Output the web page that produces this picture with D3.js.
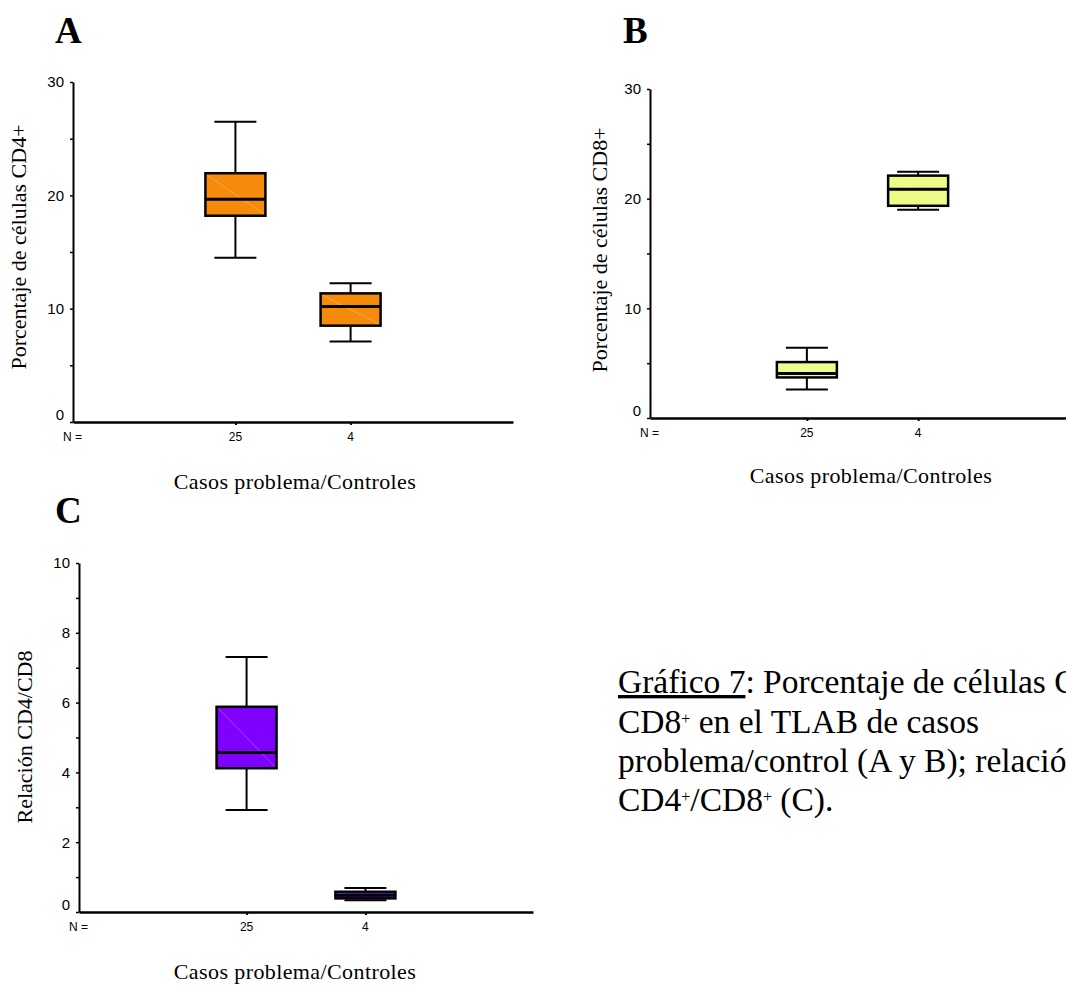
<!DOCTYPE html>
<html>
<head>
<meta charset="utf-8">
<script src="https://cdn.jsdelivr.net/npm/d3@7"></script>
<style>
  body { margin: 0; background: #fff; }
  svg { display: block; }
  .serif { font-family: "Liberation Serif", "Times New Roman", serif; fill: #000; }
  .sans { font-family: "Liberation Sans", Arial, sans-serif; fill: #000; }
</style>
</head>
<body>
<svg id="fig" width="1066" height="985"></svg>
<script>
// Group sizes shown under each box (casos problema, controles)
const groups = ["25", "4"];

// Five-number summaries per group: [min, q1, median, q3, max]
const cd4Pct = [
  [14.5, 18.2, 19.65, 21.95, 26.5],
  [7.1, 8.5, 10.2, 11.35, 12.25]
];
const cd8Pct = [
  [2.6, 3.7, 4.05, 5.1, 6.4],
  [19.0, 19.35, 20.85, 22.1, 22.45]
];
const cd4cd8Ratio = [
  [2.92, 4.12, 4.57, 5.88, 7.31],
  [0.34, 0.39, 0.48, 0.58, 0.69]
];

// Axis ticks
const pctMajorTicks = [0, 10, 20, 30];
const pctMinorTicks = [5, 15, 25];
const ratioMajorTicks = [0, 2, 4, 6, 8, 10];
const ratioMinorTicks = [1, 3, 5, 7, 9];

const xTitle = "Casos problema/Controles";

const svg = d3.select("#fig");

const panels = [
  { letter: "A", letterX: 55, letterY: 43, data: cd4Pct, fill: "#F58A0B",
    yMax: 30, major: pctMajorTicks, minor: pctMinorTicks,
    left: 73, right: 513, top: 82, bottom: 422,
    yLabel: "Porcentaje de células CD4+", yLabelX: 26, yLabelY: 247,
    xTitleX: 295, xTitleY: 489 },
  { letter: "B", letterX: 623, letterY: 43, data: cd8Pct, fill: "#ECFC86",
    yMax: 30, major: pctMajorTicks, minor: pctMinorTicks,
    left: 650, right: 1075, top: 89, bottom: 418,
    yLabel: "Porcentaje de células CD8+", yLabelX: 607, yLabelY: 250,
    xTitleX: 871, xTitleY: 483 },
  { letter: "C", letterX: 55, letterY: 523, data: cd4cd8Ratio, fill: "#8000FF",
    yMax: 10, major: ratioMajorTicks, minor: ratioMinorTicks,
    left: 79, right: 533, top: 563, bottom: 912,
    yLabel: "Relación CD4/CD8", yLabelX: 32, yLabelY: 737,
    xTitleX: 295, xTitleY: 979 }
];

const boxW = 60, capW = 42;

panels.forEach(p => {
  const g = svg.append("g");

  const x = d3.scalePoint().domain(groups).range([p.left, p.right]).padding(1.41);
  const y = d3.scaleLinear().domain([0, p.yMax]).range([p.bottom, p.top]);

  // panel letter
  g.append("text").attr("class", "serif")
    .attr("x", p.letterX).attr("y", p.letterY)
    .attr("font-size", 37).attr("font-weight", "bold")
    .text(p.letter);

  // y axis
  const yAxis = d3.axisLeft(y)
    .tickValues(p.major.concat(p.minor).sort((a, b) => a - b))
    .tickSize(3).tickSizeOuter(0).tickPadding(6)
    .tickFormat(d => p.major.includes(d) ? d3.format("d")(d) : "");
  const ya = g.append("g").attr("transform", `translate(${p.left},0)`).call(yAxis);
  ya.select(".domain").attr("stroke", "#000").attr("stroke-width", 2);
  ya.selectAll(".tick line").attr("stroke", "#000").attr("stroke-width", 1.5);
  ya.selectAll(".tick text")
    .attr("class", "sans").attr("font-size", 15)
    .attr("dy", d => d === 0 ? "-0.2em" : "0.32em");

  // x axis
  const xAxis = d3.axisBottom(x).tickSize(3).tickSizeOuter(0).tickFormat("");
  const xa = g.append("g").attr("transform", `translate(0,${p.bottom})`).call(xAxis);
  xa.select(".domain").attr("stroke", "#000").attr("stroke-width", 2.5);
  xa.selectAll(".tick line").attr("stroke", "#000").attr("stroke-width", 2);

  // N row
  g.append("text").attr("class", "sans")
    .attr("x", p.left - 10).attr("y", p.bottom + 19)
    .attr("font-size", 12).text("N =");
  g.selectAll(".nlab").data(groups).enter().append("text")
    .attr("class", "sans nlab")
    .attr("x", d => x(d)).attr("y", p.bottom + 19)
    .attr("text-anchor", "middle").attr("font-size", 12)
    .text(d => d);

  // axis titles
  g.append("text").attr("class", "serif")
    .attr("transform", `translate(${p.yLabelX},${p.yLabelY}) rotate(-90)`)
    .attr("text-anchor", "middle").attr("font-size", 22)
    .text(p.yLabel);
  g.append("text").attr("class", "serif")
    .attr("x", p.xTitleX).attr("y", p.xTitleY)
    .attr("text-anchor", "middle").attr("font-size", 22)
    .attr("letter-spacing", 0.4)
    .text(xTitle);

  // boxes
  const boxes = g.selectAll(".box").data(p.data.map((s, i) => ({ s, k: groups[i] })))
    .enter().append("g").attr("class", "box");

  boxes.append("line")
    .attr("x1", d => x(d.k)).attr("x2", d => x(d.k))
    .attr("y1", d => y(d.s[0])).attr("y2", d => y(d.s[4]))
    .attr("stroke", "#000").attr("stroke-width", 2);
  [0, 4].forEach(j => {
    boxes.append("line")
      .attr("x1", d => x(d.k) - capW / 2).attr("x2", d => x(d.k) + capW / 2)
      .attr("y1", d => y(d.s[j])).attr("y2", d => y(d.s[j]))
      .attr("stroke", "#000").attr("stroke-width", 2);
  });
  boxes.append("rect")
    .attr("x", d => x(d.k) - boxW / 2).attr("width", boxW)
    .attr("y", d => y(d.s[3])).attr("height", d => y(d.s[1]) - y(d.s[3]))
    .attr("fill", p.fill).attr("stroke", "#000").attr("stroke-width", 2.5);
  // faint diagonal sheen across the fill
  boxes.append("line")
    .attr("x1", d => x(d.k) - boxW / 2 + 2).attr("y1", d => y(d.s[3]) + 2)
    .attr("x2", d => x(d.k) + boxW / 2 - 2).attr("y2", d => y(d.s[1]) - 2)
    .attr("stroke", "#fff").attr("stroke-opacity", 0.35).attr("stroke-width", 0.8);
  boxes.append("line")
    .attr("x1", d => x(d.k) - boxW / 2).attr("x2", d => x(d.k) + boxW / 2)
    .attr("y1", d => y(d.s[2])).attr("y2", d => y(d.s[2]))
    .attr("stroke", "#000").attr("stroke-width", 3);
});

// caption
const caption = svg.append("text").attr("class", "serif").attr("font-size", 33.5);
const capX = 618;
const supSize = 16, supShift = 9;
const l1 = caption.append("tspan").attr("x", capX).attr("y", 693);
l1.append("tspan").attr("text-decoration", "underline").text("Gráfico 7");
l1.append("tspan").text(": Porcentaje de células CD4");
l1.append("tspan").attr("font-size", supSize).attr("dy", -supShift).text("+");
l1.append("tspan").attr("dy", supShift).text(" y");

const l2 = caption.append("tspan").attr("x", capX).attr("y", 733);
l2.append("tspan").text("CD8");
l2.append("tspan").attr("font-size", supSize).attr("dy", -supShift).text("+");
l2.append("tspan").attr("dy", supShift).text(" en el TLAB de casos");

caption.append("tspan").attr("x", capX).attr("y", 772)
  .text("problema/control (A y B); relación");

const l4 = caption.append("tspan").attr("x", capX).attr("y", 811);
l4.append("tspan").text("CD4");
l4.append("tspan").attr("font-size", supSize).attr("dy", -supShift).text("+");
l4.append("tspan").attr("dy", supShift).text("/CD8");
l4.append("tspan").attr("font-size", supSize).attr("dy", -supShift).text("+");
l4.append("tspan").attr("dy", supShift).text(" (C).");
</script>
</body>
</html>
